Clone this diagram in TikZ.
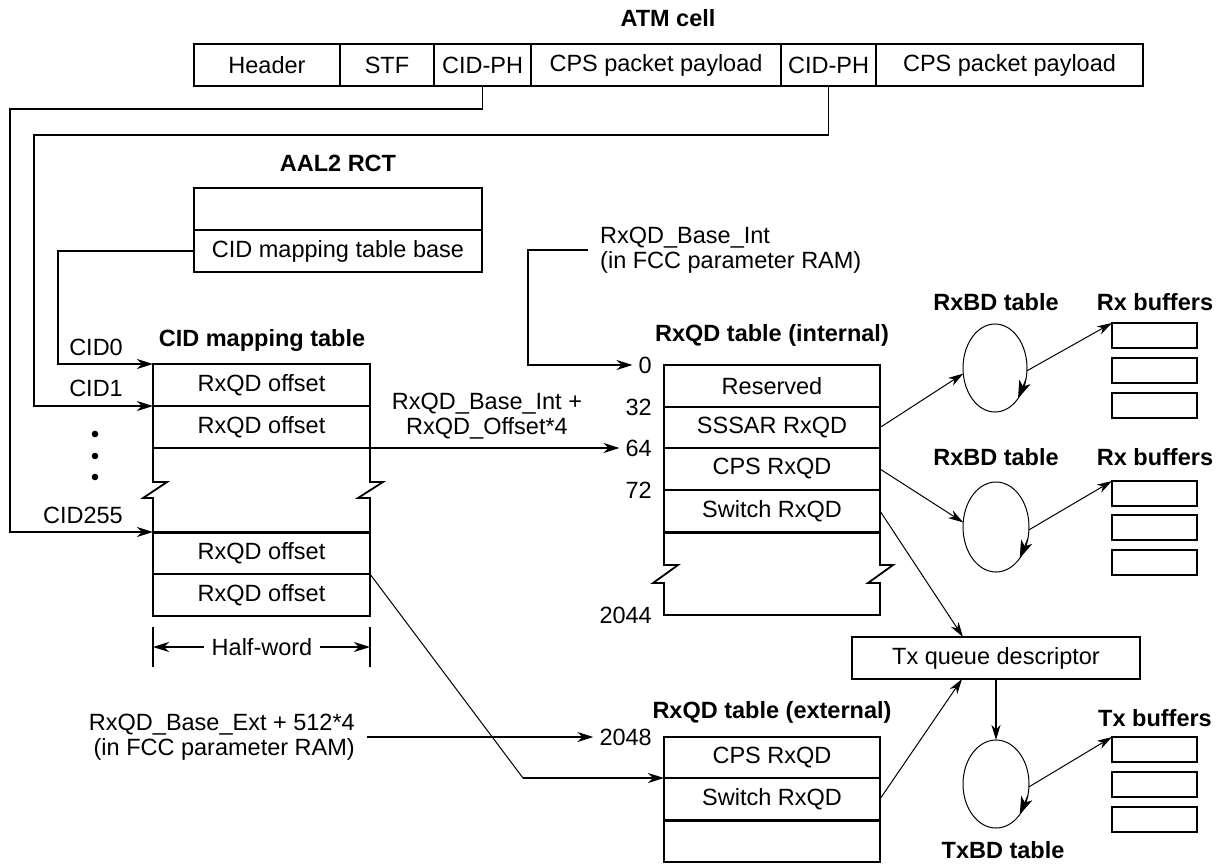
\documentclass[tikz,border=0pt]{standalone}
\usepackage{fontspec}
\setmainfont{Liberation Sans}
\usetikzlibrary{arrows.meta,calc,shapes.geometric}
\begin{document}
\begin{tikzpicture}[x=1pt,y=-1pt,
  font=\fontsize{23.5pt}{25pt}\selectfont,
  cell/.style 2 args={draw, line width=1.8pt, inner sep=0pt, outer sep=0pt, anchor=north west, minimum width=#1, minimum height=#2},
  buf/.style={draw, line width=1.8pt, inner sep=0pt, outer sep=0pt, anchor=north west, minimum width=85pt, minimum height=25pt},
  ttl/.style={font=\fontsize{23.5pt}{25pt}\selectfont\bfseries, inner sep=0pt},
  lbl/.style={inner sep=0pt},
  num/.style={anchor=east, inner sep=6pt},
  conn/.style={line width=1.8pt},
  thinc/.style={line width=1pt},
  medc/.style={line width=1.4pt},
  bigtip/.style={-{Stealth[length=16pt,width=10pt,inset=5pt]}},
  smalltip/.style={-{Stealth[length=15pt,width=9pt,inset=4.5pt]}},
  arctip/.style={-{Stealth[length=18pt,width=12pt,inset=5pt]}},
  oval/.style={ellipse, draw, line width=1pt, inner sep=0pt, outer sep=0pt},
]
\useasboundingbox (0,0) rectangle (1220,865);

% ATM cell
\node[ttl] (atmt) at (668,18) {ATM cell};
\node[cell={146pt}{42pt}] (a1) at (194,44) {Header};
\node[cell={94pt}{42pt}] (a2) at (340,44) {STF};
\node[cell={97pt}{42pt}] (a3) at (434,44) {CID-PH};
\node[cell={250pt}{42pt}] (a4) at (531,44) {CPS packet payload};
\node[cell={95pt}{42pt}] (a5) at (781,44) {CID-PH};
\node[cell={267pt}{42pt}] (a6) at (876,44) {CPS packet payload};

% AAL2 RCT
\node[ttl] (aalt) at (338,163) {AAL2 RCT};
\node[cell={288pt}{42pt}] (r0) at (194,188) {};
\node[cell={288pt}{42pt}] (r1) at (194,230) {CID mapping table base};

% CID mapping table
\node[ttl] (cidt) at (262,340) {CID mapping table};
\node[cell={217pt}{42pt}] (c0) at (153,364) {RxQD offset};
\node[cell={217pt}{42pt}] (c1) at (153,406) {RxQD offset};
\node[cell={217pt}{42pt}] (c2) at (153,532) {RxQD offset};
\node[cell={217pt}{42pt}] (c3) at (153,574) {RxQD offset};
\draw[conn] (c1.south west) -- (153,482) -- (167,482) -- (143,498) -- (153,498) -- (c2.north west);
\draw[conn] (c1.south east) -- (370,482) -- (383,482) -- (358,498) -- (370,498) -- (c2.north east);
\draw[line width=3pt] (c2.north west) -- (c2.north east);

\node[lbl, anchor=east] (cid0) at (123,347) {CID0};
\node[lbl, anchor=east] (cid1) at (123,388) {CID1};
\node[lbl, anchor=east] (cid255) at (123,515) {CID255};
\fill (95,434) circle[radius=3.3];
\fill (95,456) circle[radius=3.3];
\fill (95,477) circle[radius=3.3];

% Half-word
\draw[conn] (153,627) -- (153,667);
\draw[conn] (370,627) -- (370,667);
\node[lbl, inner xsep=8pt] (hw) at (262,647) {Half-word};
\coordinate (hwl) at (153,647);
\coordinate (hwr) at (370,647);
\draw[conn,bigtip] (hw.west) -- (hwl);
\draw[conn,bigtip] (hw.east) -- (hwr);

% connectors from ATM cell and RCT
\coordinate (k1) at (10,109);
\draw[conn,bigtip] (a3.south) |- (k1) |- (c2.north west);
\coordinate (k2) at (34,135);
\draw[conn,bigtip] (a5.south) |- (k2) |- (c1.north west);
\coordinate (k3) at (58,364);
\draw[conn,bigtip] (r1.west) -| (k3) -- (c0.north west);

% RxQD table (internal)
\node[ttl] (intt) at (772,335) {RxQD table (internal)};
\node[cell={216pt}{42pt}] (i0) at (664,365) {Reserved};
\node[cell={216pt}{41pt}] (i1) at (664,407) {SSSAR RxQD};
\node[cell={216pt}{42pt}] (i2) at (664,448) {CPS RxQD};
\node[cell={216pt}{42pt}] (i3) at (664,490) {Switch RxQD};
\draw[conn] (i3.south west) -- (664,565) -- (678,565) -- (653,583) -- (664,583) -- (664,615) -- (880,615) -- (880,583) -- (868,583) -- (893,565) -- (880,565) -- (i3.south east);
\draw[line width=3pt] (i3.south west) -- (i3.south east);
\node[num] (n0) at (658,365) {0};
\node[num] (n32) at (658,407) {32};
\node[num] (n64) at (658,448) {64};
\node[num] (n72) at (658,490) {72};
\node[num] (n2044) at (658,615) {2044};

\node[lbl, anchor=west, align=left, inner xsep=12pt] (bint) at (588,250) {RxQD\_Base\_Int\\(in FCC parameter RAM)};
\coordinate (k4) at (528,365);
\draw[conn,bigtip] (bint.west) -| (k4) -- (n0.west);

\node[lbl, align=center] (offl) at (487,416) {RxQD\_Base\_Int +\\RxQD\_Offset*4};
\draw[conn,bigtip] (c1.south east) -- (n64.west);

% RxQD table (external)
\node[ttl] (extt) at (772,712) {RxQD table (external)};
\node[cell={216pt}{41pt}] (e0) at (664,737) {CPS RxQD};
\node[cell={216pt}{42pt}] (e1) at (664,778) {Switch RxQD};
\node[cell={216pt}{42pt}] (e2) at (664,820) {};
\draw[line width=3pt] (e1.south west) -- (e1.south east);
\node[num] (n2048) at (658,737) {2048};
\node[lbl, anchor=east, align=right, inner xsep=12pt] (bext) at (367,737) {RxQD\_Base\_Ext + 512*4\\(in FCC parameter RAM)};
\draw[conn,bigtip] (bext.east) -- (n2048.west);
\coordinate (k5) at (523,778);
\draw[thinc] (c3.north east) -- (k5);
\draw[conn,bigtip] (k5) -- (e1.north west);

% Tx queue descriptor
\node[cell={288pt}{42pt}] (tx) at (852,637) {Tx queue descriptor};

% RxBD group 1
\node[ttl] (rbt1) at (996,302) {RxBD table};
\node[ttl] (rxb1) at (1155,302) {Rx buffers};
\node[oval, minimum width=64pt, minimum height=88pt] (el1) at (995,368) {};
\draw[thinc,arctip] ($(el1.center)+(15:32 and 44)$) -- ($(el1.center)+(44:32 and 44)$);
\node[buf] (b11) at (1112,323) {};
\node[buf] (b12) at (1112,358) {};
\node[buf] (b13) at (1112,393) {};

% RxBD group 2
\node[ttl] (rbt2) at (996,457) {RxBD table};
\node[ttl] (rxb2) at (1155,457) {Rx buffers};
\node[oval, minimum width=66pt, minimum height=90pt] (el2) at (996,527) {};
\draw[thinc,arctip] ($(el2.center)+(15:33 and 45)$) -- ($(el2.center)+(44:33 and 45)$);
\node[buf] (b21) at (1112,481) {};
\node[buf] (b22) at (1112,515) {};
\node[buf] (b23) at (1112,550) {};

% TxBD group
\node[ttl] (txb) at (1155,718) {Tx buffers};
\node[ttl] (txbt) at (1003,850) {TxBD table};
\node[oval, minimum width=66pt, minimum height=88pt] (el3) at (996,784) {};
\draw[thinc,arctip] ($(el3.center)+(15:33 and 44)$) -- ($(el3.center)+(44:33 and 44)$);
\node[buf] (t1) at (1112,737) {};
\node[buf] (t2) at (1112,772) {};
\node[buf] (t3) at (1112,807) {};

% arrows on the right
\draw[thinc,smalltip] (i1.east) -- (el1.190);
\draw[thinc,smalltip] (el1.-5) -- (b11.north west);
\draw[thinc,smalltip] (i2.east) -- (el2.172);
\draw[thinc,smalltip] (el2.-5) -- (b21.north west);
\draw[thinc,smalltip] (i3.east) -- ($(tx.north)+(-33,0)$);
\draw[thinc,smalltip] (e1.east) -- ($(tx.south)+(-34,0)$);
\draw[medc,smalltip] (tx.south) -- (el3.north);
\draw[thinc,smalltip] (el3.-5) -- (t1.north west);
\end{tikzpicture}
\end{document}
